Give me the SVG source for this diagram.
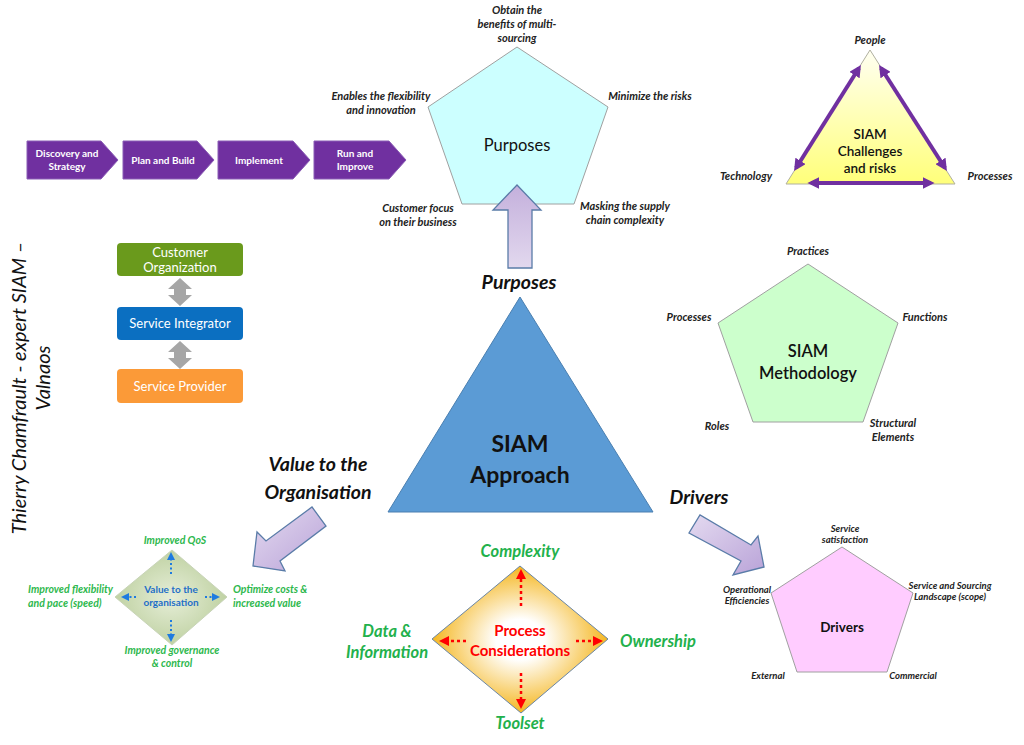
<svg xmlns="http://www.w3.org/2000/svg" width="1024" height="745" viewBox="0 0 1024 745">
<defs>
<linearGradient id="lav" x1="0" y1="0" x2="1" y2="1">
<stop offset="0" stop-color="#e4daf0"/><stop offset="1" stop-color="#b9a3d8"/>
</linearGradient>
<linearGradient id="lavUp" x1="0" y1="0" x2="0" y2="1">
<stop offset="0" stop-color="#c4b0dc"/><stop offset="1" stop-color="#e2d8ee"/>
</linearGradient>
<linearGradient id="yel" x1="0" y1="0" x2="0" y2="1">
<stop offset="0" stop-color="#fffff2"/><stop offset="1" stop-color="#ffff7a"/>
</linearGradient>
<radialGradient id="org" cx="0.5" cy="0.5" r="0.55">
<stop offset="0.25" stop-color="#ffffff"/><stop offset="1" stop-color="#f3ac00"/>
</radialGradient>
<radialGradient id="grn" cx="0.5" cy="0.5" r="0.6">
<stop offset="0" stop-color="#e6eed8"/><stop offset="1" stop-color="#b8cc98"/>
</radialGradient>
<marker id="pa" viewBox="0 0 10 10" refX="7" refY="5" markerWidth="3" markerHeight="3" orient="auto-start-reverse" markerUnits="strokeWidth">
<path d="M0,0 L10,5 L0,10 z" fill="#7030a0"/>
</marker>
<marker id="ba" viewBox="0 0 10 10" refX="5" refY="5" markerWidth="4" markerHeight="4" orient="auto" markerUnits="strokeWidth">
<path d="M0,0 L10,5 L0,10 z" fill="#1e7be0"/>
</marker>
<marker id="ra" viewBox="0 0 10 10" refX="5" refY="5" markerWidth="4" markerHeight="4" orient="auto" markerUnits="strokeWidth">
<path d="M0,0 L10,5 L0,10 z" fill="#ff0000"/>
</marker>
</defs>
<style>
text{font-family:Lato,"Liberation Sans",sans-serif;text-anchor:middle}
.chev{fill:#7030a0;stroke:#8a5cb5;stroke-width:1}
.chevt{fill:#fff;font-size:10px;font-weight:bold}
.lbl{font-size:11px;font-weight:bold;font-style:italic;fill:#222}
.lbs{font-size:9.5px;font-weight:bold;font-style:italic;fill:#222}
.big{font-size:19.5px;font-weight:bold;font-style:italic;fill:#111}
.gl{font-size:10.5px;font-weight:bold;font-style:italic;fill:#2db84d}
.gL{font-size:16.5px;font-weight:bold;font-style:italic;fill:#22b14c}
.pent{stroke:#a0a0a0;stroke-width:1}
.larr{fill:url(#lav);stroke:#5a7ca8;stroke-width:1.3}
.box{stroke:none}
.boxt{font-size:13px;fill:#fff}
.garr{fill:#a6a6a6}
</style>

<g id="phases">
<g id="phase1"><polygon class="chev" points="27,141 101,141 118,160 101,179 27,179"/><text class="chevt" x="67" y="157">Discovery and</text><text class="chevt" x="67" y="170">Strategy</text></g>
<g id="phase2"><polygon class="chev" points="123,141 197,141 214,160 197,179 123,179"/><text class="chevt" x="163" y="164">Plan and Build</text></g>
<g id="phase3"><polygon class="chev" points="218,141 293,141 310,160 293,179 218,179"/><text class="chevt" x="259" y="164">Implement</text></g>
<g id="phase4"><polygon class="chev" points="314,141 389,141 406,160 389,179 314,179"/><text class="chevt" x="355" y="157">Run and</text><text class="chevt" x="355" y="170">Improve</text></g>
</g>

<g id="purposes">
<polygon class="pent" fill="#ccffff" points="517,47 608,107 574,204 462,204 428,107"/>
<text x="517" y="151" font-size="16.5" fill="#111">Purposes</text>
<text class="lbl" x="517" y="14">Obtain the</text>
<text class="lbl" x="517" y="28">benefits of multi-</text>
<text class="lbl" x="517" y="42">sourcing</text>
<text class="lbl" x="381" y="100">Enables the flexibility</text>
<text class="lbl" x="381" y="114">and innovation</text>
<text class="lbl" x="650" y="100">Minimize the risks</text>
<text class="lbl" x="418" y="212">Customer focus</text>
<text class="lbl" x="418" y="226">on their business</text>
<text class="lbl" x="625" y="210">Masking the supply</text>
<text class="lbl" x="625" y="224">chain complexity</text>
</g>

<g id="challenges">
<polygon fill="url(#yel)" stroke="#b0b0a0" stroke-width="1" points="870,50 955,184 786,184"/>
<text x="870" y="139" font-size="13.5" font-weight="600" fill="#111">SIAM</text>
<text x="870" y="156" font-size="13.5" font-weight="600" fill="#111">Challenges</text>
<text x="870" y="173" font-size="13.5" font-weight="600" fill="#111">and risks</text>
<text class="lbl" x="870" y="44">People</text>
<text class="lbl" x="746" y="180">Technology</text>
<text class="lbl" x="990" y="180">Processes</text>
</g>

<g id="structure">
<g id="customer"><rect class="box" x="117" y="243" width="126" height="33" rx="4" fill="#6a9a1c"/><text class="boxt" x="180" y="257" fill="#e8f2d8">Customer</text><text class="boxt" x="180" y="272" fill="#e8f2d8">Organization</text></g>
<g id="integrator"><rect class="box" x="117" y="307" width="126" height="33" rx="4" fill="#0b6fc1"/><text class="boxt" x="180" y="328">Service Integrator</text></g>
<g id="provider"><rect class="box" x="117" y="369" width="126" height="34" rx="4" fill="#fb9a38"/><text class="boxt" x="180" y="391" fill="#fff4e6">Service Provider</text></g>
</g>

<g id="methodology">
<polygon class="pent" fill="#ccffcc" points="808,264 898,323 863,422 753,422 718,323"/>
<text x="808" y="357" font-size="16.5" font-weight="600" fill="#111">SIAM</text>
<text x="808" y="379" font-size="16.5" font-weight="600" fill="#111">Methodology</text>
<text class="lbl" x="808" y="255">Practices</text>
<text class="lbl" x="689" y="321">Processes</text>
<text class="lbl" x="925" y="321">Functions</text>
<text class="lbl" x="717" y="430">Roles</text>
<text class="lbl" x="893" y="427">Structural</text>
<text class="lbl" x="893" y="441">Elements</text>
</g>

<g id="approach">
<polygon fill="#5b9bd5" stroke="#4a7fb0" stroke-width="1" points="520,297 653,512 388,512"/>
<text x="520" y="452" font-size="23" font-weight="bold" fill="#111">SIAM</text>
<text x="520" y="483" font-size="23" font-weight="bold" fill="#111">Approach</text>
<text class="big" x="519" y="289">Purposes</text>
<text class="big" x="318" y="471">Value to the</text>
<text class="big" x="318" y="499">Organisation</text>
<text class="big" x="699" y="504">Drivers</text>
</g>

<g id="drivers">
<polygon class="pent" fill="#ffccff" points="842,547 913,593 887,672 797,672 771,593"/>
<text x="842" y="632" font-size="13.5" font-weight="bold" fill="#111">Drivers</text>
<text class="lbs" x="845" y="532">Service</text>
<text class="lbs" x="845" y="543">satisfaction</text>
<text class="lbs" x="747" y="593">Operational</text>
<text class="lbs" x="747" y="604">Efficiencies</text>
<text class="lbs" x="950" y="589">Service and Sourcing</text>
<text class="lbs" x="950" y="600">Landscape (scope)</text>
<text class="lbs" x="768" y="679">External</text>
<text class="lbs" x="913" y="679">Commercial</text>
</g>

<g id="value">
<polygon fill="url(#grn)" stroke="#c8d4b8" stroke-width="1" points="172,550 227,597 172,645 115,597"/>
<text x="171" y="593" font-size="10" font-weight="bold" fill="#1f6fc8">Value to the</text>
<text x="171" y="606" font-size="10" font-weight="bold" fill="#1f6fc8">organisation</text>
<text class="gl" x="175" y="544">Improved QoS</text>
<text class="gl" x="28" y="593" style="text-anchor:start">Improved flexibility</text>
<text class="gl" x="28" y="607" style="text-anchor:start">and pace (speed)</text>
<text class="gl" x="233" y="593" style="text-anchor:start">Optimize costs &amp;</text>
<text class="gl" x="233" y="607" style="text-anchor:start">increased value</text>
<text class="gl" x="172" y="654">Improved governance</text>
<text class="gl" x="172" y="667">&amp; control</text>
</g>

<g id="process">
<polygon fill="url(#org)" stroke="#6a86a6" stroke-width="1" points="520,566 608,639 521,713 432,639"/>
<text x="520" y="636" font-size="15" font-weight="bold" fill="#ff0000">Process</text>
<text x="520" y="656" font-size="15" font-weight="bold" fill="#ff0000">Considerations</text>
<text class="gL" x="520" y="557">Complexity</text>
<text class="gL" x="387" y="637">Data &amp;</text>
<text class="gL" x="387" y="658">Information</text>
<text class="gL" x="658" y="647">Ownership</text>
<text class="gL" x="520" y="729">Toolset</text>
</g>

<g id="author">
<text transform="translate(26,388) rotate(-90)" font-size="20" font-style="italic" fill="#111">Thierry Chamfrault - expert SIAM –</text>
<text transform="translate(50,378) rotate(-90)" font-size="20" font-style="italic" fill="#111">Valnaos</text>
</g>

<g id="connectors">
<polygon fill="url(#lavUp)" stroke="#5a7ca8" stroke-width="1.3" points="517,185 541,210 532,210 532,268 508,268 508,210 493,210"/>
<polygon class="larr" points="253,566 257,532 266,541 312,507 326,526 280,561 285,571"/>
<polygon class="larr" points="764,567 733,575 741,561 689,533 700,515 751,545 758,536"/>
<line x1="859" y1="68" x2="796" y2="168" stroke="#7030a0" stroke-width="4" marker-start="url(#pa)" marker-end="url(#pa)"/>
<line x1="881" y1="68" x2="945" y2="168" stroke="#7030a0" stroke-width="4" marker-start="url(#pa)" marker-end="url(#pa)"/>
<line x1="811" y1="183" x2="931" y2="183" stroke="#7030a0" stroke-width="4" marker-start="url(#pa)" marker-end="url(#pa)"/>
<polygon class="garr" points="180,278 192,289 186,289 186,295 192,295 180,306 168,295 174,295 174,289 168,289"/>
<polygon class="garr" points="180,341 192,352 186,352 186,358 192,358 180,369 168,358 174,358 174,352 168,352"/>
<g stroke="#1e7be0" stroke-width="2" stroke-dasharray="2,2.5" fill="none">
<line x1="171" y1="574" x2="171" y2="556" marker-end="url(#ba)"/>
<line x1="171" y1="620" x2="171" y2="638" marker-end="url(#ba)"/>
<line x1="136" y1="597" x2="125" y2="597" marker-end="url(#ba)"/>
<line x1="205" y1="597" x2="216" y2="597" marker-end="url(#ba)"/>
</g>
<g stroke="#ff0000" stroke-width="2.5" stroke-dasharray="3,3" fill="none">
<line x1="521" y1="606" x2="521" y2="574" marker-end="url(#ra)"/>
<line x1="521" y1="673" x2="521" y2="704" marker-end="url(#ra)"/>
<line x1="466" y1="641" x2="444" y2="641" marker-end="url(#ra)"/>
<line x1="576" y1="641" x2="598" y2="641" marker-end="url(#ra)"/>
</g>
</g>
</svg>
